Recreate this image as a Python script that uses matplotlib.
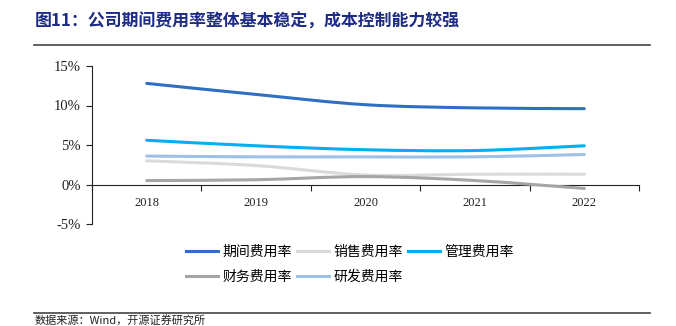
import matplotlib.pyplot as plt
from matplotlib.path import Path
from matplotlib.patches import PathPatch
from matplotlib.lines import Line2D
from matplotlib.ticker import FixedLocator, FuncFormatter

plt.rcParams['font.family'] = ['Liberation Serif', 'Noto Sans CJK SC', 'DejaVu Sans']

years = ['2018', '2019', '2020', '2021', '2022']
period_rate = [12.8, 11.4, 10.1, 9.7, 9.6]   # 期间费用率
sales_rate = [3.0, 2.4, 1.2, 1.3, 1.3]       # 销售费用率
admin_rate = [5.6, 4.9, 4.4, 4.3, 4.9]       # 管理费用率
finance_rate = [0.5, 0.6, 1.0, 0.5, -0.5]    # 财务费用率
rd_rate = [3.6, 3.5, 3.5, 3.5, 3.8]          # 研发费用率

series = [
    ('期间费用率', period_rate, '#2E6FC3'),
    ('销售费用率', sales_rate, '#DADADA'),
    ('管理费用率', admin_rate, '#00B0F0'),
    ('财务费用率', finance_rate, '#A5A5A5'),
    ('研发费用率', rd_rate, '#9DC0E8'),
]


def smooth_path(xs, ys):
    # Catmull-Rom style bezier through the points (like Excel "smoothed line")
    pts = list(zip(xs, ys))
    verts = [pts[0]]
    codes = [Path.MOVETO]
    n = len(pts)
    for i in range(n - 1):
        p0 = pts[i - 1] if i > 0 else pts[i]
        p1 = pts[i]
        p2 = pts[i + 1]
        p3 = pts[i + 2] if i + 2 < n else pts[i + 1]
        c1 = (p1[0] + (p2[0] - p0[0]) / 6, p1[1] + (p2[1] - p0[1]) / 6)
        c2 = (p2[0] - (p3[0] - p1[0]) / 6, p2[1] - (p3[1] - p1[1]) / 6)
        verts += [c1, c2, p2]
        codes += [Path.CURVE4] * 3
    return Path(verts, codes)


fig = plt.figure(figsize=(6.76, 3.26), dpi=100)
ax = fig.add_axes([92 / 676, 1 - 224 / 326, (639 - 92) / 676, (224 - 66) / 326])

x = list(range(len(years)))
handles = []
for name, vals, color in series:
    ax.add_patch(PathPatch(smooth_path(x, vals), facecolor='none', edgecolor=color,
                           lw=2.2, capstyle='round', zorder=3))
    handles.append(Line2D([], [], color=color, lw=2.2, label=name))

ax.set_xlim(-0.5, len(years) - 0.5)
ax.set_ylim(-5, 15)

for s in ['top', 'right']:
    ax.spines[s].set_visible(False)
ax.spines['bottom'].set_position(('data', 0))
ax.spines['left'].set_color('#222222')
ax.spines['bottom'].set_color('#222222')

ax.xaxis.set_major_locator(FixedLocator([i - 0.5 for i in range(len(years) + 1)]))
ax.xaxis.set_minor_locator(FixedLocator(x))
ax.set_xticklabels([], minor=False)
ax.set_xticklabels(years, minor=True)
ax.tick_params(axis='x', which='major', direction='out', length=4, color='#222222')
ax.tick_params(axis='x', which='minor', length=0, pad=9, labelsize=9, labelcolor='#222222')

ax.set_yticks([-5, 0, 5, 10, 15])
ax.yaxis.set_major_formatter(FuncFormatter(lambda v, p: f'{v:.0f}%'))
ax.tick_params(axis='y', direction='out', length=4, color='#222222', labelsize=10.5,
               labelcolor='#222222', pad=4)

# legend: reorder so rows read 期间/销售/管理 then 财务/研发
order = [0, 3, 1, 4, 2]
fig.legend([handles[i] for i in order], [handles[i].get_label() for i in order],
           loc='upper left', bbox_to_anchor=(186 / 676, 1 - 245 / 326), ncol=3,
           frameon=False, borderpad=0, borderaxespad=0, handlelength=2.3,
           handletextpad=0.35, columnspacing=0.35, labelspacing=0.8,
           prop={'family': ['Noto Sans CJK SC', 'DejaVu Sans'], 'size': 10})

# title, rules and source
fig.text(35 / 676, 1 - 22 / 326, '图11：公司期间费用率整体基本稳定，成本控制能力较强',
         family=['Noto Sans CJK SC', 'DejaVu Sans'], fontsize=12.2, fontweight='bold',
         color='#1F2C86', va='center', ha='left')
fig.add_artist(Line2D([34 / 676, 650 / 676], [1 - 45 / 326, 1 - 45 / 326],
                      color='#444444', lw=1.2))
fig.add_artist(Line2D([34 / 676, 650 / 676], [1 - 313 / 326, 1 - 313 / 326],
                      color='#444444', lw=1.2))
fig.text(35 / 676, 0.5 / 326, '数据来源：Wind，开源证券研究所',
         family=['Noto Sans CJK SC', 'DejaVu Sans'], fontsize=8, color='#222222',
         va='bottom', ha='left')

fig.savefig('out.png', dpi=100)
